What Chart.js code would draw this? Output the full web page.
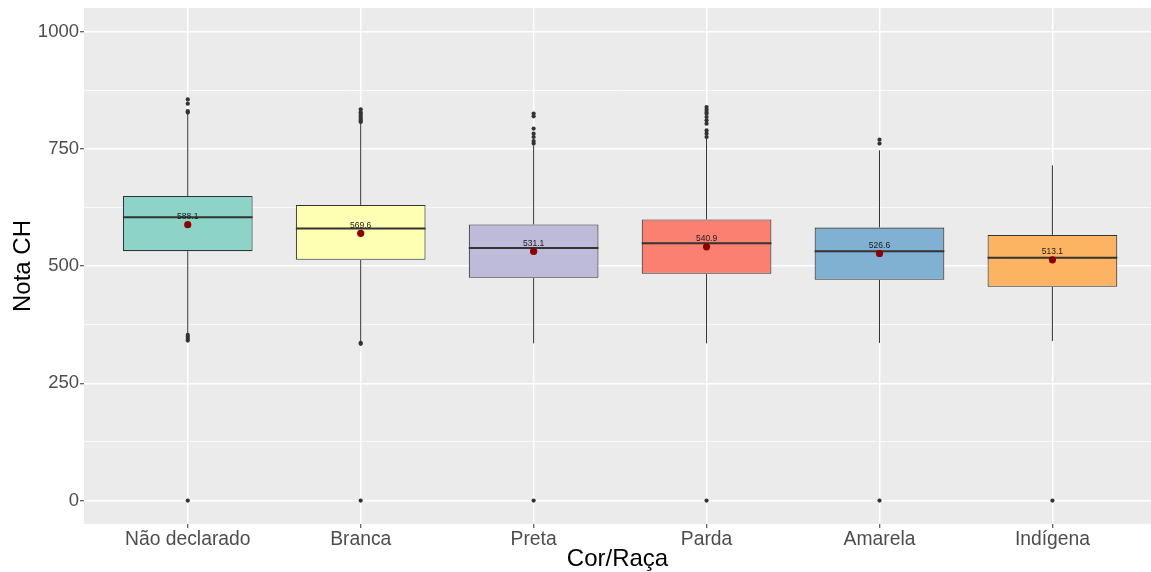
<!DOCTYPE html>
<html><head><meta charset="utf-8">
<script src="https://cdn.jsdelivr.net/npm/chart.js@4"></script>
<style>html,body{margin:0;padding:0;background:#fff}#wrap{width:1151px;height:572px}</style>
</head><body><div id="wrap"><canvas id="c" width="1151" height="572"></canvas></div>
<script>
const categories = ['Não declarado', 'Branca', 'Preta', 'Parda', 'Amarela', 'Indígena'];
const whiskerLow  = [356, 340, 335, 335, 336, 340];
const q1          = [531.6, 513.1, 474.8, 483.3, 470.5, 455.6];
const median      = [604, 580, 538.6, 548.7, 531.6, 517.4];
const q3          = [649.3, 630.2, 588.5, 599.1, 582, 566.3];
const whiskerHigh = [825, 805, 757, 772, 746.6, 714.7];
const means       = [588.1, 569.6, 531.1, 540.9, 526.6, 513.1];
const meanLabels  = ['588.1', '569.6', '531.1', '540.9', '526.6', '513.1'];
const outliersNaoDeclarado = [0, 341, 345, 349, 353, 827, 830, 846, 855];
const outliersBranca       = [0, 334, 336, 807, 809, 812, 816, 820, 824, 828, 834];
const outliersPreta        = [0, 761, 766.5, 775, 782, 793, 819, 825];
const outliersParda        = [0, 775, 782, 789, 803.5, 810.5, 817.6, 824.8, 828.2, 833.3, 838.8];
const outliersAmarela      = [0, 761, 769.4];
const outliersIndigena     = [0];
const outliers = [outliersNaoDeclarado, outliersBranca, outliersPreta, outliersParda, outliersAmarela, outliersIndigena];
const fillColors = ['#8DD3C7', '#FFFFB3', '#BEBADA', '#FB8072', '#80B1D3', '#FDB462'];
const yTicks = [0, 125, 250, 375, 500, 625, 750, 875, 1000];
const yTickLabels = ['0', '', '250', '', '500', '', '750', '', '1000'];

const FONT = '"Liberation Sans", Arial, Helvetica, sans-serif';
const halfBox = 0.375;

const whiskerData = [];
const medianData = [];
const outlierData = [];
categories.forEach((c, i) => {
  whiskerData.push({x: i, y: whiskerLow[i]}, {x: i, y: q1[i]}, {x: i, y: null},
                   {x: i, y: q3[i]}, {x: i, y: whiskerHigh[i]}, {x: i, y: null});
  medianData.push({x: i - halfBox, y: median[i]}, {x: i + halfBox, y: median[i]}, {x: i + halfBox, y: null});
  outliers[i].forEach(v => outlierData.push({x: i, y: v}));
});

const panelBg = {
  id: 'panelBg',
  beforeDraw(chart) {
    const a = chart.chartArea, ctx = chart.ctx;
    ctx.save(); ctx.fillStyle = '#EBEBEB';
    ctx.fillRect(a.left, a.top, a.right - a.left, a.bottom - a.top);
    ctx.restore();
  }
};
const meanText = {
  id: 'meanText',
  afterDatasetsDraw(chart) {
    const {ctx, scales: {x, y}} = chart;
    ctx.save();
    ctx.font = '8.5px ' + FONT;
    ctx.fillStyle = '#1a1a1a';
    ctx.textAlign = 'center';
    ctx.textBaseline = 'middle';
    means.forEach((m, i) => ctx.fillText(meanLabels[i], x.getPixelForValue(i), y.getPixelForValue(m) - 8));
    ctx.restore();
  }
};

new Chart(document.getElementById('c'), {
  type: 'bar',
  data: {
    datasets: [
      {type: 'scatter', data: means.map((m, i) => ({x: i, y: m})), pointRadius: 3.6, pointBackgroundColor: '#8B0000', pointBorderWidth: 0, order: 0},
      {type: 'line', data: medianData, borderColor: '#333333', borderWidth: 2, pointRadius: 0, spanGaps: false, order: 1},
      {type: 'scatter', data: outlierData, pointRadius: 2.1, pointBackgroundColor: '#333333', pointBorderWidth: 0, order: 2},
      {type: 'bar', data: categories.map((c, i) => ({x: i, y: [q1[i], q3[i]]})), backgroundColor: fillColors,
       borderColor: '#333333', borderWidth: 1.1, borderSkipped: false, barPercentage: 0.75, categoryPercentage: 1, order: 3},
      {type: 'line', data: whiskerData, borderColor: '#333333', borderWidth: 1, pointRadius: 0, spanGaps: false, order: 4}
    ]
  },
  options: {
    responsive: false,
    animation: false,
    devicePixelRatio: 1,
    layout: {autoPadding: false, padding: {top: 8, right: 0, left: 0, bottom: 0}},
    plugins: {legend: {display: false}, tooltip: {enabled: false}},
    scales: {
      x: {
        type: 'linear', min: -0.6, max: 5.57, offset: false,
        afterBuildTicks: s => { s.ticks = categories.map((c, i) => ({value: i})); },
        afterFit: s => { s.height = 48; s.paddingLeft = 0; s.paddingRight = 0; },
        grid: {offset: false, color: '#FFFFFF', lineWidth: 1.5, tickLength: 4, tickColor: '#333333', tickWidth: 1},
        border: {display: false},
        ticks: {autoSkip: false, maxRotation: 0, padding: 0, color: '#4D4D4D', font: {family: FONT, size: 19.3},
                callback: v => categories[v]},
        title: {display: true, text: 'Cor/Raça', color: '#000000', font: {family: FONT, size: 24}, padding: {top: 0, bottom: -2}}
      },
      y: {
        type: 'linear', min: -50, max: 1050,
        afterBuildTicks: s => { s.ticks = yTicks.map(v => ({value: v})); },
        afterFit: s => { s.width = 84; s.paddingTop = 0; s.paddingBottom = 0; },
        grid: {color: '#FFFFFF', lineWidth: c => (c.tick && c.tick.value % 250 === 0) ? 1.5 : 0.75,
               tickLength: 4, tickWidth: 1,
               tickColor: c => (c.tick && c.tick.value % 250 === 0) ? '#333333' : 'rgba(0,0,0,0)'},
        border: {display: false},
        ticks: {padding: 1, color: '#4D4D4D', font: {family: FONT, size: 18.5},
                callback: (v, idx) => yTickLabels[yTicks.indexOf(v)]},
        title: {display: true, text: 'Nota CH', color: '#000000', font: {family: FONT, size: 24}, padding: {top: 9, bottom: 0}}
      }
    }
  },
  plugins: [panelBg, meanText]
});
</script></body></html>
